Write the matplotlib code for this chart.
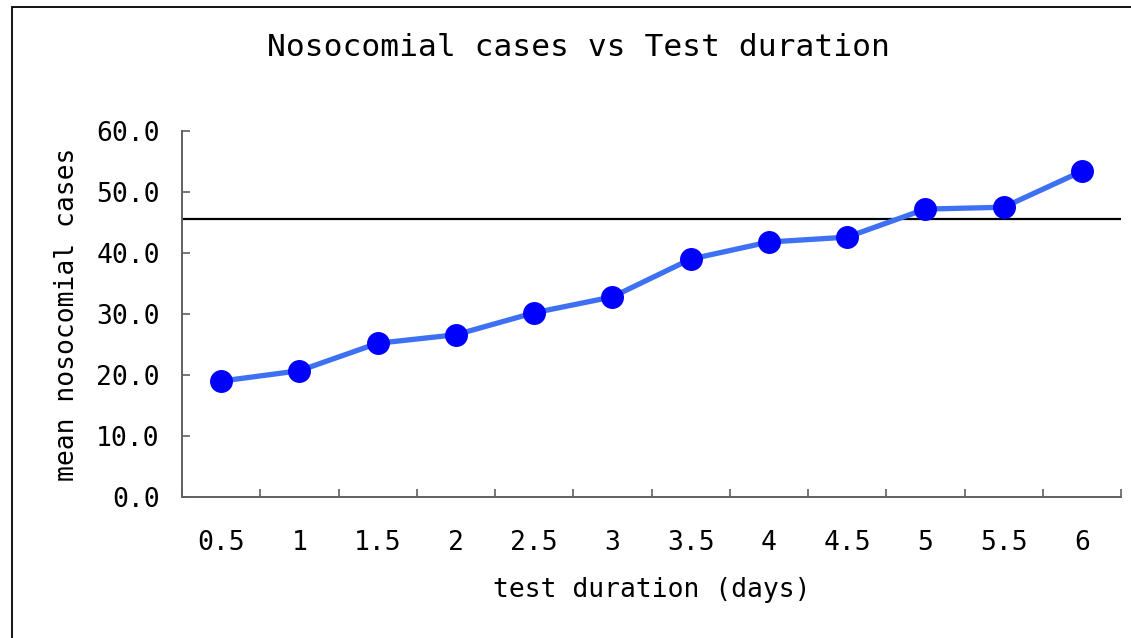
import matplotlib
matplotlib.use("Agg")
import matplotlib.pyplot as plt
from matplotlib.patches import Rectangle
from matplotlib.ticker import FixedLocator

categories = ["0.5", "1", "1.5", "2", "2.5", "3", "3.5", "4", "4.5", "5", "5.5", "6"]
mean_cases = [19.0, 20.7, 25.2, 26.6, 30.2, 32.8, 39.0, 41.8, 42.6, 47.2, 47.5, 53.4]
reference_level = 45.6
y_ticks = [0, 10, 20, 30, 40, 50, 60]

FONT = "DejaVu Sans Mono"
plt.rcParams["font.family"] = FONT

W, H = 1131, 638
fig = plt.figure(figsize=(W / 100, H / 100), dpi=100)

# figure border (only left and top visible in reference)
fig.patches.append(Rectangle((11.5 / W, -0.1), 1.2, (H - 6.5) / H + 0.1,
                             transform=fig.transFigure, fill=False,
                             edgecolor="black", linewidth=1.3))

ax = fig.add_axes([182 / W, 1 - 497 / H, (1121 - 182) / W, (497 - 131) / H])
x = list(range(len(categories)))

ax.axhline(reference_level, color="black", linewidth=1.6, zorder=2)
ax.plot(x, mean_cases, color="#3d70f2", linewidth=3.8, zorder=3,
        solid_capstyle="round")
ax.plot(x, mean_cases, linestyle="none", marker="o", markersize=15.5,
        markerfacecolor="#0000ff", markeredgecolor="#0000ff", zorder=4)

ax.set_xlim(-0.5, len(categories) - 0.5)
ax.set_ylim(0, 60)

TS = 19
ax.set_xticks(x)
ax.set_xticklabels(categories, fontsize=TS)
ax.xaxis.set_minor_locator(FixedLocator([i - 0.5 for i in range(len(categories) + 1)]))
ax.tick_params(axis="x", which="major", length=0, pad=24)
ax.tick_params(axis="x", which="minor", direction="in", length=6,
               color="#606060", width=1.2)

ax.set_yticks(y_ticks)
ax.set_yticklabels([f"{v:.1f}" for v in y_ticks], fontsize=TS)
ax.tick_params(axis="y", direction="in", length=6, color="#606060",
               width=1.2, pad=16)

for s in ["top", "right"]:
    ax.spines[s].set_visible(False)
for s in ["left", "bottom"]:
    ax.spines[s].set_color("#606060")
    ax.spines[s].set_linewidth(1.4)

ax.set_xlabel("test duration (days)", fontsize=TS, labelpad=15)
ax.set_ylabel("mean nosocomial cases", fontsize=TS, labelpad=12)

fig.text(578 / W, 1 - 47 / H, "Nosocomial cases vs Test duration",
         ha="center", va="center", fontsize=22.5)

fig.savefig("out.png", dpi=100)
